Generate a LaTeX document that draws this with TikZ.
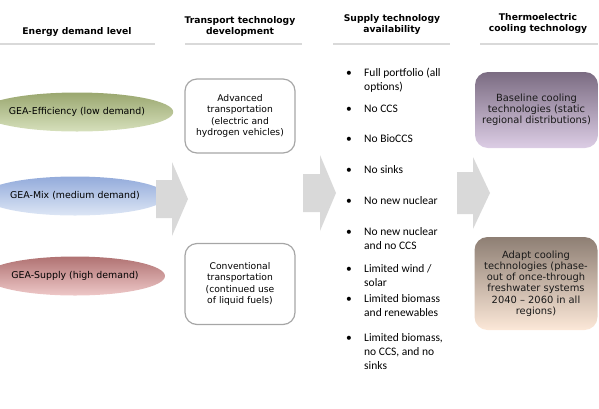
\documentclass[tikz,border=0pt]{standalone}
\usepackage{fontspec}
\setmainfont{DejaVu Sans}
\newfontfamily\calibrifont{Carlito}
\usetikzlibrary{shapes.geometric,positioning}

\definecolor{effTop}{HTML}{9AA76F}
\definecolor{effBot}{HTML}{D6E0BC}
\definecolor{mixTop}{HTML}{93ABDB}
\definecolor{mixBot}{HTML}{DDE6F5}
\definecolor{supTop}{HTML}{B07272}
\definecolor{supBot}{HTML}{EEC8C8}
\definecolor{baseTop}{HTML}{7B6C82}
\definecolor{baseBot}{HTML}{DCCDE5}
\definecolor{adaptTop}{HTML}{8E7F74}
\definecolor{adaptBot}{HTML}{FCE8D8}
\definecolor{arrowGray}{HTML}{D9D9D9}
\definecolor{lineGray}{HTML}{D9D9D9}
\definecolor{boxGray}{HTML}{A6A6A6}

\tikzset{
	hdr/.style={font=\bfseries\fontsize{9.2}{11}\selectfont, align=center, inner sep=0pt},
	hdrline/.style={draw=lineGray, line width=1.5pt},
	demand/.style={ellipse, minimum width=150pt, minimum height=39pt, inner sep=0pt,
		font=\fontsize{9.4}{11}\selectfont},
	transbox/.style={draw=boxGray, line width=1.2pt, rounded corners=12pt,
		minimum width=110pt, align=center, font=\fontsize{9.2}{11.5}\selectfont},
	coolbox/.style={rounded corners=13pt, minimum width=123pt, align=center,
		text=black!90, font=\fontsize{9.9}{11.2}\selectfont},
	optitem/.style={anchor=base west, inner sep=0pt,
		font=\calibrifont\fontsize{11.5}{14}\selectfont},
	blockarrow/.style={fill=arrowGray}
}

% one option of the supply list: name, baseline, lines
\newcommand{\optline}[3]{%
	\node[optitem] (#1) at (346,#2)
		{\begin{tabular}[t]{@{}p{18pt}@{}l@{}}•&#3\end{tabular}};}

\begin{document}
\begin{tikzpicture}[x=1pt, y=-1pt]
	\useasboundingbox (0,0) rectangle (599,408);
	% column heads
	\node[hdr] (hdrDemand) at (77,32) {Energy demand level};
	\node[hdr] (hdrTrans) at (240,26) {Transport technology\\development};
	\node[hdr] (hdrSupply) at (392,24) {Supply technology\\availability};
	\node[hdr] (hdrCool) at (538,23) {Thermoelectric\\cooling technology};
	\draw[hdrline] (0,44) -- (155,44);
	\draw[hdrline] (185,44) -- (302,44);
	\draw[hdrline] (333,44) -- (450,44);
	\draw[hdrline] (480,44) -- (598,44);
	% demand levels
	\node[demand, top color=effTop, bottom color=effBot] (eff) at (77,112) {GEA-Efficiency (low demand)};
	\node[demand, top color=mixTop, bottom color=mixBot] (mix) at (75,196) {GEA-Mix (medium demand)};
	\node[demand, top color=supTop, bottom color=supBot] (sup) at (75,276) {GEA-Supply (high demand)};
	% transport
	\node[transbox, minimum height=74pt] (adv) at (240,116) {Advanced\\transportation\\(electric and\\hydrogen vehicles)};
	\node[transbox, minimum height=81pt] (conv) at (240,284) {Conventional\\transportation\\(continued use\\of liquid fuels)};
	% supply options
	\optline{opt1}{76}{Full portfolio (all\\&options)}
	\optline{opt2}{112}{No CCS}
	\optline{opt3}{142}{No BioCCS}
	\optline{opt4}{173}{No sinks}
	\optline{opt5}{204}{No new nuclear}
	\optline{opt6}{235}{No new nuclear\\&and no CCS}
	\optline{opt7}{272}{Limited wind /\\&solar}
	\optline{opt8}{302}{Limited biomass\\&and renewables}
	\optline{opt9}{341}{Limited biomass,\\&no CCS, and no\\&sinks}
	% cooling
	\node[coolbox, minimum height=76pt, top color=baseTop, bottom color=baseBot] (base) at (536.5,110) {Baseline cooling\\technologies (static\\regional distributions)};
	\node[coolbox, minimum height=93pt, top color=adaptTop, bottom color=adaptBot] (adapt) at (536,283.5) {Adapt cooling\\technologies (phase-\\out of once-through\\freshwater systems\\2040 -- 2060 in all\\regions)};
	% block arrows
	\coordinate (arrA) at (156,199);
	\coordinate (arrB) at (303,193);
	\coordinate (arrC) at (457,193);
	\fill[blockarrow] (arrA) ++(0,-19) -- ++(16,0) -- ++(0,-18) -- ++(16,37) -- ++(-16,37) -- ++(0,-18) -- ++(-16,0) -- cycle;
	\fill[blockarrow] (arrB) ++(0,-19) -- ++(17,0) -- ++(0,-19) -- ++(16,38) -- ++(-16,38) -- ++(0,-19) -- ++(-17,0) -- cycle;
	\fill[blockarrow] (arrC) ++(0,-21) -- ++(16,0) -- ++(0,-15) -- ++(17,36) -- ++(-17,36) -- ++(0,-15) -- ++(-16,0) -- cycle;
\end{tikzpicture}
\end{document}
